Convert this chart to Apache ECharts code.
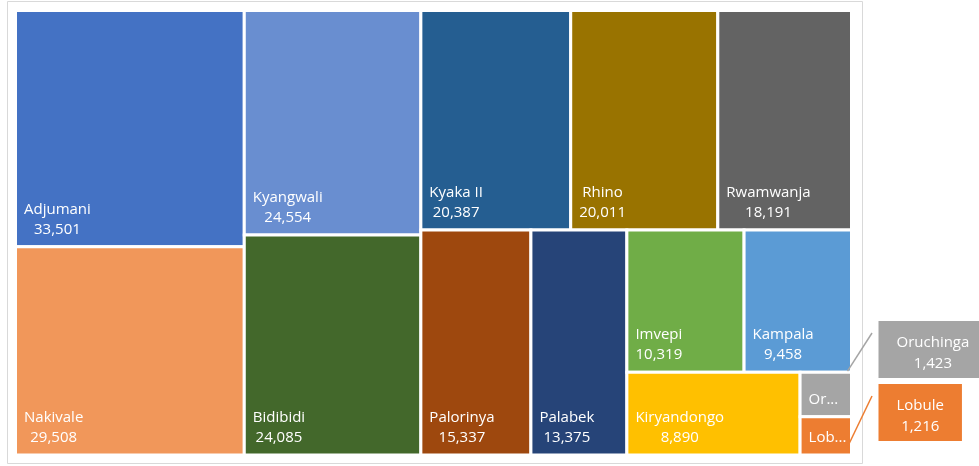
<!DOCTYPE html>
<html>
<head>
<meta charset="utf-8">
<script src="https://cdn.jsdelivr.net/npm/echarts@6/dist/echarts.min.js"></script>
<style>
  html, body { margin: 0; padding: 0; background: #ffffff; }
  #chart { width: 979px; height: 466px; }
</style>
</head>
<body>
<div id="chart"></div>
<script>
// Refugee population by settlement
const sites = ['Adjumani', 'Nakivale', 'Kyangwali', 'Bidibidi', 'Kyaka II', 'Rhino', 'Rwamwanja',
  'Palorinya', 'Palabek', 'Imvepi', 'Kampala', 'Kiryandongo', 'Oruchinga', 'Lobule'];
const refugees = [33501, 29508, 24554, 24085, 20387, 20011, 18191,
  15337, 13375, 10319, 9458, 8890, 1423, 1216];

// Tile colours, one per settlement
const palette = ['#4472C4', '#F1975A', '#698ED0', '#43682B', '#255E91', '#997300', '#636363',
  '#9E480E', '#264478', '#70AD47', '#5B9BD5', '#FFC000', '#A5A5A5', '#ED7D31'];

// Slice plan: 'col' stacks items top-to-bottom in a strip on the left,
// 'row' places items side by side in a strip along the top.
const strips = [['col', 2], ['col', 2], ['row', 3], ['col', 1], ['col', 1],
  ['row', 2], ['col', 1], ['row', 1], ['col', 1]];

const FONT = '15px "Open Sans", sans-serif';
const CALLOUT_FONT = '15px "Open Sans", sans-serif';
const fmt = v => v.toLocaleString('en-US');

// Tiles in unit coordinates [x0, y0, x1, y1]
function sliceLayout(values) {
  let x = 0, y = 0, w = 1, h = 1, i = 0;
  let rem = values.reduce((a, b) => a + b, 0);
  const out = [];
  for (const [dir, n] of strips) {
    const part = values.slice(i, i + n);
    const s = part.reduce((a, b) => a + b, 0);
    if (dir === 'col') {
      const cw = w * s / rem;
      let yy = y;
      part.forEach(v => { const ch = h * v / s; out.push([x, yy, x + cw, yy + ch]); yy += ch; });
      x += cw; w -= cw;
    } else {
      const rh = h * s / rem;
      let xx = x;
      part.forEach(v => { const rw = w * v / s; out.push([xx, y, xx + rw, y + rh]); xx += rw; });
      y += rh; h -= rh;
    }
    rem -= s; i += n;
  }
  return out;
}

const tiles = sliceLayout(refugees);
const seriesData = tiles.map((t, i) => [t[0], t[1], t[2], t[3], i]);

const measureCtx = document.createElement('canvas').getContext('2d');
function textWidth(str, font) { measureCtx.font = font; return measureCtx.measureText(str).width; }

const INSET = 8.5;
function tileFits(i, pw, ph) {
  const need = Math.max(textWidth(sites[i], FONT), textWidth(fmt(refugees[i]), FONT)) + 2 * INSET;
  return need <= pw && ph >= 52;
}
function truncated(name, avail) {
  if (textWidth(name, FONT) <= avail) return name;
  let k = name.length;
  while (k > 1 && textWidth(name.slice(0, k) + '...', FONT) > avail) k--;
  return name.slice(0, k) + '...';
}

const chart = echarts.init(document.getElementById('chart'), null, { renderer: 'canvas' });

function renderTile(params, api) {
  const i = api.value(4);
  const p0 = api.coord([api.value(0), api.value(1)]);
  const p1 = api.coord([api.value(2), api.value(3)]);
  const x = p0[0], y = p0[1], w = p1[0] - p0[0], h = p1[1] - p0[1];
  const cs = params.coordSys;
  const children = [{
    type: 'rect',
    shape: { x: x, y: y, width: w, height: h },
    style: { fill: palette[i], stroke: '#ffffff', lineWidth: 3 }
  }];
  const bottom = y + h;
  if (tileFits(i, w, h)) {
    const name = sites[i], val = fmt(refugees[i]);
    const bw = Math.max(textWidth(name, FONT), textWidth(val, FONT));
    const cx = x + INSET + bw / 2;
    children.push({ type: 'text', style: { text: name, x: cx, y: bottom - 37, fill: '#ffffff', font: FONT, align: 'center', verticalAlign: 'middle' } });
    children.push({ type: 'text', style: { text: val, x: cx, y: bottom - 17, fill: '#ffffff', font: FONT, align: 'center', verticalAlign: 'middle' } });
  } else {
    children.push({ type: 'text', style: { text: truncated(sites[i], w - INSET - 4.5), x: x + INSET, y: bottom - 17, fill: '#ffffff', font: FONT, align: 'left', verticalAlign: 'middle' } });
    // callout outside the plot, stacked upward from the bottom
    const outs = tiles.map((t, j) => j).filter(j => !tileFits(j, (tiles[j][2] - tiles[j][0]) * cs.width, (tiles[j][3] - tiles[j][1]) * cs.height));
    const k = outs.length - 1 - outs.indexOf(i);
    const boxH = 57, gap = 6;
    const boxBottom = cs.y + cs.height - 14 - k * (boxH + gap);
    const boxTop = boxBottom - boxH;
    const boxX = cs.x + cs.width + 27;
    const boxW = Math.max(textWidth(sites[i], CALLOUT_FONT), textWidth(fmt(refugees[i]), CALLOUT_FONT)) + 36;
    const bc = boxX + boxW / 2, bm = boxTop + boxH / 2;
    const endY = k > 0 ? y - 1 : bottom - 8;
    children.push({ type: 'line', shape: { x1: boxX - 6.5, y1: boxTop + 12, x2: x + w - 4, y2: endY }, style: { stroke: palette[i], lineWidth: 1.5 } });
    children.push({ type: 'rect', shape: { x: boxX, y: boxTop, width: boxW, height: boxH }, style: { fill: palette[i] } });
    children.push({ type: 'text', style: { text: sites[i], x: bc, y: bm - 7, fill: '#ffffff', font: CALLOUT_FONT, align: 'center', verticalAlign: 'middle' } });
    children.push({ type: 'text', style: { text: fmt(refugees[i]), x: bc, y: bm + 14, fill: '#ffffff', font: CALLOUT_FONT, align: 'center', verticalAlign: 'middle' } });
  }
  return { type: 'group', children: children };
}

chart.setOption({
  animation: false,
  backgroundColor: '#ffffff',
  graphic: [{
    type: 'rect', z: -1, silent: true,
    shape: { x: 7.5, y: 1.5, width: 855, height: 462 },
    style: { fill: 'none', stroke: '#D9D9D9', lineWidth: 1 }
  }],
  grid: { left: 15.5, top: 10.5, width: 836, height: 444.5 },
  xAxis: { type: 'value', min: 0, max: 1, show: false },
  yAxis: { type: 'value', min: 0, max: 1, inverse: true, show: false },
  series: [{
    type: 'custom',
    clip: false,
    renderItem: renderTile,
    encode: { x: [0, 2], y: [1, 3] },
    data: seriesData
  }]
});
</script>
</body>
</html>
